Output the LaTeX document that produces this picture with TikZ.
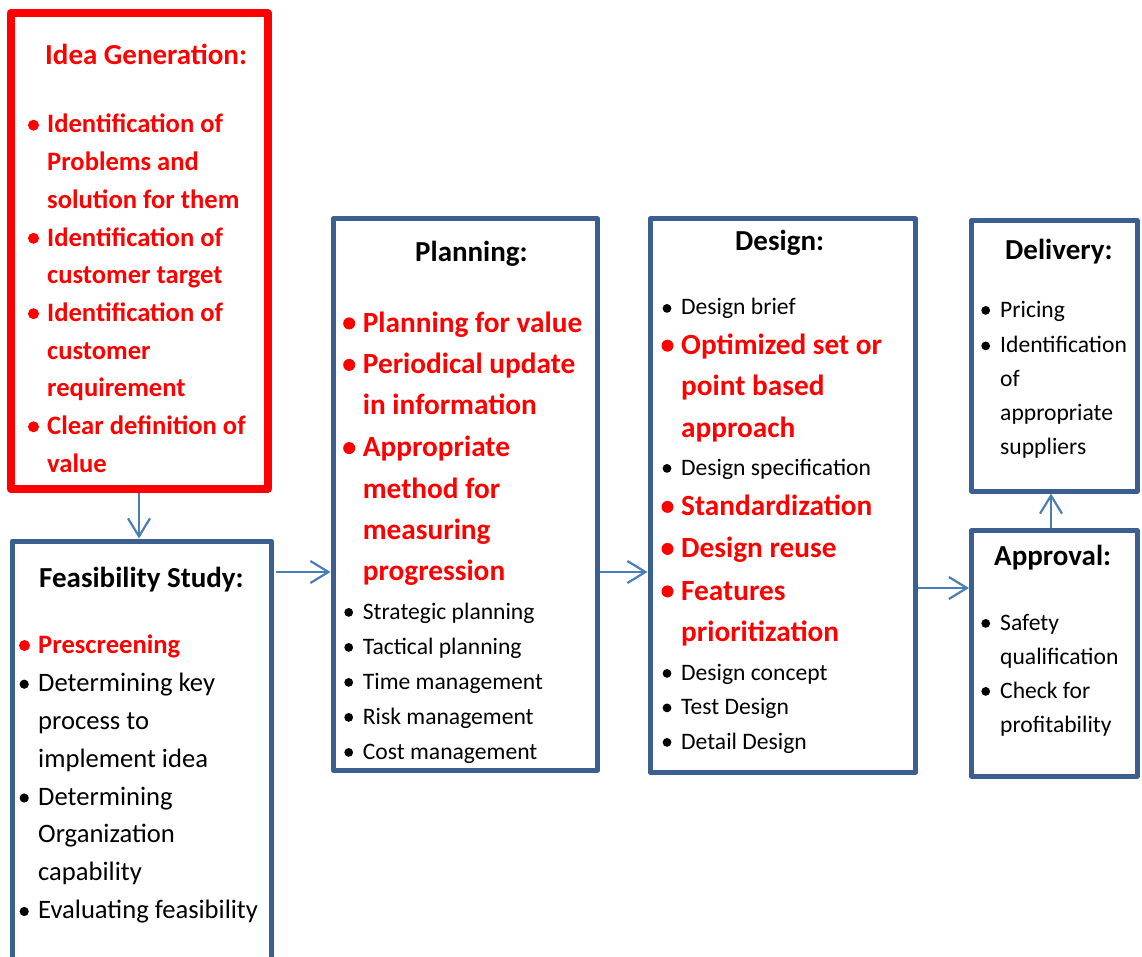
\documentclass[tikz,border=0pt]{standalone}
\usepackage{fontspec}
\setmainfont{Carlito}
\usetikzlibrary{arrows.meta,calc}

\definecolor{boxblue}{HTML}{3B5F8E}
\definecolor{arrowblue}{HTML}{4A7EBB}
\definecolor{hotred}{HTML}{FF0000}

\tikzset{
  phase/.style={draw=boxblue, line width=5pt, line join=round, fill=white, inner sep=0pt},
  ideaphase/.style={draw=hotred, line width=8pt, line join=round, fill=white, inner sep=0pt},
  flow/.style={draw=arrowblue, line width=2.2pt, -{Straight Barb[length=18pt,width=22pt,line width=2.2pt]}},
  heading/.style={anchor=base west, inner sep=0pt, font=\bfseries\fontsize{29pt}{35pt}\selectfont},
  bigred/.style={anchor=base west, inner sep=0pt, text=hotred, font=\bfseries\fontsize{29.3pt}{41.4pt}\selectfont},
  midred/.style={anchor=base west, inner sep=0pt, text=hotred, font=\bfseries\fontsize{26.6pt}{37.7pt}\selectfont},
  midblack/.style={anchor=base west, inner sep=0pt, font=\fontsize{26.6pt}{37.9pt}\selectfont},
  smallblack/.style={anchor=base west, inner sep=0pt, font=\fontsize{23.6pt}{35pt}\selectfont},
  tightblack/.style={anchor=base west, inner sep=0pt, font=\fontsize{23.6pt}{34pt}\selectfont},
}

% one text line inside a multi-line entry
\newcommand\row[1]{\hbox{#1}}
% bulleted entries: name, text x, first baseline y, lines
\newcommand\bigitem[4]{%
  \node[bigred] (#1) at (#2,#3) {\vtop{#4}};
  \fill[hotred] ([shift={(-13.5,-8.6)}]#1.base west) circle (6pt);}
\newcommand\midreditem[4]{%
  \node[midred] (#1) at (#2,#3) {\vtop{#4}};
  \fill[hotred] ([shift={(-13.5,-7.8)}]#1.base west) circle (5.5pt);}
\newcommand\midblackitem[4]{%
  \node[midblack] (#1) at (#2,#3) {\vtop{#4}};
  \fill[black] ([shift={(-13.8,-7)}]#1.base west) circle (4.6pt);}
\newcommand\smallitem[4]{%
  \node[smallblack] (#1) at (#2,#3) {\vtop{#4}};
  \fill[black] ([shift={(-14,-6.6)}]#1.base west) circle (4.4pt);}
\newcommand\tightitem[4]{%
  \node[tightblack] (#1) at (#2,#3) {\vtop{#4}};
  \fill[black] ([shift={(-14.3,-6.6)}]#1.base west) circle (4.4pt);}

\begin{document}
\begin{tikzpicture}[x=1pt, y=-1pt]
  \useasboundingbox (0,0) rectangle (1142,957);

  % phase boxes
  \node[ideaphase, minimum width=257pt, minimum height=476pt] (idea) at (139,251) {};
  \node[phase, minimum width=258.5pt, minimum height=459pt] (feas) at (141.75,770.5) {};
  \node[phase, minimum width=264.5pt, minimum height=551pt] (plan) at (465.25,494.5) {};
  \node[phase, minimum width=265.5pt, minimum height=553pt] (design) at (782.75,495.5) {};
  \node[phase, minimum width=165.5pt, minimum height=270.5pt] (deliv) at (1054.25,355.75) {};
  \node[phase, minimum width=165.5pt, minimum height=245.5pt] (approv) at (1054.25,653.25) {};

  % connectors
  \coordinate (rowA) at (0,572);
  \coordinate (rowB) at (0,588);
  \coordinate (colC) at (1051,0);
  \draw[flow] (idea.south) -- (idea.south |- feas.north);
  \draw[flow] ([xshift=2pt]feas.east |- rowA) -- (plan.west |- rowA);
  \draw[flow] (plan.east |- rowA) -- (design.west |- rowA);
  \draw[flow] (design.east |- rowB) -- (approv.west |- rowB);
  \draw[flow] (approv.north -| colC) -- (deliv.south -| colC);

  % Idea Generation
  \node[heading, text=hotred] (ideaT) at (45,65) {Idea Generation:};
  \midreditem{i1}{47}{133}{\row{Identification of}\row{Problems and}\row{solution for them}}
  \midreditem{i2}{47}{246.1}{\row{Identification of}\row{customer target}}
  \midreditem{i3}{47}{321.5}{\row{Identification of}\row{customer}\row{requirement}}
  \midreditem{i4}{47}{434.6}{\row{Clear definition of}\row{value}}

  % Feasibility Study
  \node[heading] (feasT) at (39,587) {Feasibility Study:};
  \midreditem{f1}{38}{653.3}{\row{Prescreening}}
  \midblackitem{f2}{38}{691.2}{\row{Determining key}\row{process to}\row{implement idea}}
  \midblackitem{f3}{38}{805}{\row{Determining}\row{Organization}\row{capability}}
  \midblackitem{f4}{38}{918.5}{\row{Evaluating feasibility}}

  % Planning
  \node[heading] (planT) at (415,262) {Planning:};
  \bigitem{p1}{362.7}{332}{\row{Planning for value}}
  \bigitem{p2}{362.7}{373.5}{\row{Periodical update}\row{in information}}
  \bigitem{p3}{362.7}{456.7}{\row{Appropriate}\row{method for}\row{measuring}\row{progression}}
  \smallitem{p4}{362.7}{619}{\row{Strategic planning}}
  \smallitem{p5}{362.7}{654}{\row{Tactical planning}}
  \smallitem{p6}{362.7}{689}{\row{Time management}}
  \smallitem{p7}{362.7}{724}{\row{Risk management}}
  \smallitem{p8}{362.7}{759}{\row{Cost management}}

  % Design
  \node[heading] (designT) at (735,251) {Design:};
  \smallitem{d1}{681}{315}{\row{Design brief}}
  \bigitem{d2}{681}{354.3}{\row{Optimized set or}\row{point based}\row{approach}}
  \smallitem{d3}{681}{475}{\row{Design specification}}
  \bigitem{d4}{681}{515.5}{\row{Standardization}}
  \bigitem{d5}{681}{557.5}{\row{Design reuse}}
  \bigitem{d6}{681}{600}{\row{Features}\row{prioritization}}
  \smallitem{d7}{681}{680}{\row{Design concept}}
  \smallitem{d8}{681}{714.5}{\row{Test Design}}
  \smallitem{d9}{681}{749}{\row{Detail Design}}

  % Delivery
  \node[heading] (delivT) at (1005,260) {Delivery:};
  \tightitem{v1}{1000}{317}{\row{Pricing}}
  \tightitem{v2}{1000}{352.5}{\row{Identification}\row{of}\row{appropriate}\row{suppliers}}

  % Approval
  \node[heading] (approvT) at (994,565) {Approval:};
  \tightitem{a1}{1000}{630}{\row{Safety}\row{qualification}}
  \tightitem{a2}{1000}{698}{\row{Check for}\row{profitability}}
\end{tikzpicture}
\end{document}
